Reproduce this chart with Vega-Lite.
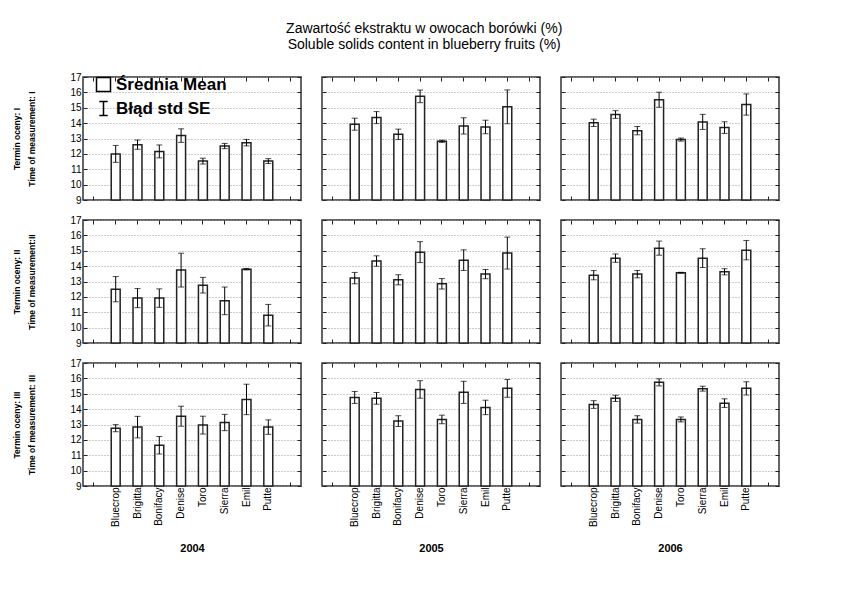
{
  "$schema": "https://vega.github.io/schema/vega-lite/v6.json",
  "background": "white",
  "padding": {"left": 12, "top": 22, "right": 5, "bottom": 5},
  "title": {
    "text": ["Zawartość ekstraktu w owocach borówki (%)", "Soluble solids content in blueberry fruits (%)"],
    "fontSize": 14, "fontWeight": "normal", "font": "Liberation Sans", "color": "black",
    "anchor": "middle", "offset": 19, "lineHeight": 16, "dx": 28
  },
  "data": {"values": [
    {"term": "I", "year": "2004", "variety": "Bluecrop", "mean": 12.0, "se": 0.55},
    {"term": "I", "year": "2004", "variety": "Brigitta", "mean": 12.6, "se": 0.3},
    {"term": "I", "year": "2004", "variety": "Bonifacy", "mean": 12.16, "se": 0.42},
    {"term": "I", "year": "2004", "variety": "Denise", "mean": 13.19, "se": 0.44},
    {"term": "I", "year": "2004", "variety": "Toro", "mean": 11.53, "se": 0.19},
    {"term": "I", "year": "2004", "variety": "Sierra", "mean": 12.51, "se": 0.17},
    {"term": "I", "year": "2004", "variety": "Emil", "mean": 12.73, "se": 0.21},
    {"term": "I", "year": "2004", "variety": "Putte", "mean": 11.53, "se": 0.16},
    {"term": "I", "year": "2005", "variety": "Bluecrop", "mean": 13.93, "se": 0.39},
    {"term": "I", "year": "2005", "variety": "Brigitta", "mean": 14.36, "se": 0.39},
    {"term": "I", "year": "2005", "variety": "Bonifacy", "mean": 13.27, "se": 0.34},
    {"term": "I", "year": "2005", "variety": "Denise", "mean": 15.74, "se": 0.41},
    {"term": "I", "year": "2005", "variety": "Toro", "mean": 12.82, "se": 0.07},
    {"term": "I", "year": "2005", "variety": "Sierra", "mean": 13.82, "se": 0.53},
    {"term": "I", "year": "2005", "variety": "Emil", "mean": 13.75, "se": 0.44},
    {"term": "I", "year": "2005", "variety": "Putte", "mean": 15.06, "se": 1.1},
    {"term": "I", "year": "2006", "variety": "Bluecrop", "mean": 14.02, "se": 0.24},
    {"term": "I", "year": "2006", "variety": "Brigitta", "mean": 14.56, "se": 0.25},
    {"term": "I", "year": "2006", "variety": "Bonifacy", "mean": 13.51, "se": 0.27},
    {"term": "I", "year": "2006", "variety": "Denise", "mean": 15.52, "se": 0.49},
    {"term": "I", "year": "2006", "variety": "Toro", "mean": 12.93, "se": 0.1},
    {"term": "I", "year": "2006", "variety": "Sierra", "mean": 14.08, "se": 0.49},
    {"term": "I", "year": "2006", "variety": "Emil", "mean": 13.71, "se": 0.38},
    {"term": "I", "year": "2006", "variety": "Putte", "mean": 15.21, "se": 0.69},
    {"term": "II", "year": "2004", "variety": "Bluecrop", "mean": 12.5, "se": 0.82},
    {"term": "II", "year": "2004", "variety": "Brigitta", "mean": 11.92, "se": 0.62},
    {"term": "II", "year": "2004", "variety": "Bonifacy", "mean": 11.92, "se": 0.6},
    {"term": "II", "year": "2004", "variety": "Denise", "mean": 13.74, "se": 1.1},
    {"term": "II", "year": "2004", "variety": "Toro", "mean": 12.76, "se": 0.51},
    {"term": "II", "year": "2004", "variety": "Sierra", "mean": 11.74, "se": 0.9},
    {"term": "II", "year": "2004", "variety": "Emil", "mean": 13.8, "se": 0.05},
    {"term": "II", "year": "2004", "variety": "Putte", "mean": 10.81, "se": 0.7},
    {"term": "II", "year": "2005", "variety": "Bluecrop", "mean": 13.22, "se": 0.37},
    {"term": "II", "year": "2005", "variety": "Brigitta", "mean": 14.33, "se": 0.34},
    {"term": "II", "year": "2005", "variety": "Bonifacy", "mean": 13.11, "se": 0.33},
    {"term": "II", "year": "2005", "variety": "Denise", "mean": 14.91, "se": 0.68},
    {"term": "II", "year": "2005", "variety": "Toro", "mean": 12.85, "se": 0.34},
    {"term": "II", "year": "2005", "variety": "Sierra", "mean": 14.39, "se": 0.67},
    {"term": "II", "year": "2005", "variety": "Emil", "mean": 13.48, "se": 0.3},
    {"term": "II", "year": "2005", "variety": "Putte", "mean": 14.85, "se": 1.04},
    {"term": "II", "year": "2006", "variety": "Bluecrop", "mean": 13.41, "se": 0.3},
    {"term": "II", "year": "2006", "variety": "Brigitta", "mean": 14.52, "se": 0.27},
    {"term": "II", "year": "2006", "variety": "Bonifacy", "mean": 13.48, "se": 0.24},
    {"term": "II", "year": "2006", "variety": "Denise", "mean": 15.17, "se": 0.46},
    {"term": "II", "year": "2006", "variety": "Toro", "mean": 13.57, "se": 0.03},
    {"term": "II", "year": "2006", "variety": "Sierra", "mean": 14.52, "se": 0.61},
    {"term": "II", "year": "2006", "variety": "Emil", "mean": 13.63, "se": 0.2},
    {"term": "II", "year": "2006", "variety": "Putte", "mean": 15.04, "se": 0.63},
    {"term": "III", "year": "2004", "variety": "Bluecrop", "mean": 12.76, "se": 0.23},
    {"term": "III", "year": "2004", "variety": "Brigitta", "mean": 12.83, "se": 0.7},
    {"term": "III", "year": "2004", "variety": "Bonifacy", "mean": 11.65, "se": 0.57},
    {"term": "III", "year": "2004", "variety": "Denise", "mean": 13.54, "se": 0.65},
    {"term": "III", "year": "2004", "variety": "Toro", "mean": 12.96, "se": 0.58},
    {"term": "III", "year": "2004", "variety": "Sierra", "mean": 13.13, "se": 0.53},
    {"term": "III", "year": "2004", "variety": "Emil", "mean": 14.63, "se": 0.99},
    {"term": "III", "year": "2004", "variety": "Putte", "mean": 12.83, "se": 0.47},
    {"term": "III", "year": "2005", "variety": "Bluecrop", "mean": 14.76, "se": 0.39},
    {"term": "III", "year": "2005", "variety": "Brigitta", "mean": 14.7, "se": 0.38},
    {"term": "III", "year": "2005", "variety": "Bonifacy", "mean": 13.22, "se": 0.35},
    {"term": "III", "year": "2005", "variety": "Denise", "mean": 15.28, "se": 0.57},
    {"term": "III", "year": "2005", "variety": "Toro", "mean": 13.33, "se": 0.28},
    {"term": "III", "year": "2005", "variety": "Sierra", "mean": 15.09, "se": 0.72},
    {"term": "III", "year": "2005", "variety": "Emil", "mean": 14.11, "se": 0.47},
    {"term": "III", "year": "2005", "variety": "Putte", "mean": 15.35, "se": 0.58},
    {"term": "III", "year": "2006", "variety": "Bluecrop", "mean": 14.3, "se": 0.25},
    {"term": "III", "year": "2006", "variety": "Brigitta", "mean": 14.7, "se": 0.2},
    {"term": "III", "year": "2006", "variety": "Bonifacy", "mean": 13.33, "se": 0.24},
    {"term": "III", "year": "2006", "variety": "Denise", "mean": 15.74, "se": 0.23},
    {"term": "III", "year": "2006", "variety": "Toro", "mean": 13.33, "se": 0.16},
    {"term": "III", "year": "2006", "variety": "Sierra", "mean": 15.33, "se": 0.16},
    {"term": "III", "year": "2006", "variety": "Emil", "mean": 14.39, "se": 0.28},
    {"term": "III", "year": "2006", "variety": "Putte", "mean": 15.35, "se": 0.43}
  ]},
  "columns": 3,
  "spacing": {"row": 20, "column": 21},
  "bounds": "flush",
  "resolve": {"scale": {"shape": "independent"}, "legend": {"shape": "independent"}},
  "concat": [
    {
      "width": 218, "height": 123,
      "transform": [{"filter": "datum.term == 'I' && datum.year == '2004'"}],
      "resolve": {"axis": {"x": "independent", "y": "independent"}},
      "layer": [
        {"mark": {"type": "bar", "fill": "white", "stroke": "#222", "strokeWidth": 1.5},
         "encoding": {
           "x": {"field": "variety", "type": "nominal", "scale": {"domain": [" ", "Bluecrop", "Brigitta", "Bonifacy", "Denise", "Toro", "Sierra", "Emil", "Putte", "  "], "paddingInner": 0.59, "paddingOuter": 0.295}, "axis": {"orient": "bottom", "labels": false, "title": null}},
           "y": {"field": "mean", "type": "quantitative", "scale": {"domain": [9, 17], "nice": false, "zero": false}, "axis": {"orient": "left", "values": [9, 10, 11, 12, 13, 14, 15, 16, 17], "grid": true, "labelPadding": 6, "title": ["Termin oceny: I", "Time of measurement: I"], "titlePadding": 33}},
           "y2": {"datum": 9}
         }},
        {"mark": {"type": "errorbar", "ticks": {"size": 6, "color": "black"}, "rule": {"color": "black", "strokeWidth": 1}},
         "encoding": {
           "x": {"field": "variety", "type": "nominal", "axis": null},
           "y": {"field": "mean", "type": "quantitative", "axis": null},
           "yError": {"field": "se"}
         }},
        {"mark": {"type": "tick", "opacity": 0},
         "encoding": {
           "x": {"field": "variety", "type": "nominal", "axis": {"orient": "top", "labels": false, "title": null}},
           "y": {"field": "mean", "type": "quantitative", "axis": {"orient": "right", "labels": false, "title": null, "grid": false, "values": [9, 10, 11, 12, 13, 14, 15, 16, 17]}}
         }},
        {"data": {"values": [{"stat": "Średnia Mean"}, {"stat": "Błąd std  SE"}]},
         "mark": {"type": "point", "opacity": 0, "filled": false},
         "encoding": {
           "shape": {"field": "stat", "type": "nominal",
             "scale": {"domain": ["Średnia Mean", "Błąd std  SE"], "range": ["square", "M-0.6,-1H0.6M0,-1V1M-0.6,1H0.6"]},
             "legend": {"title": null, "orient": "none", "legendX": 12, "legendY": -1, "padding": 0, "symbolSize": 196, "symbolStrokeColor": "black", "symbolStrokeWidth": 1.5, "symbolFillColor": "transparent", "symbolOpacity": 1, "labelFont": "Liberation Sans", "labelFontSize": 17, "labelFontWeight": "bold", "labelColor": "black", "labelOffset": 4, "rowPadding": 3}}
         }}
      ]
    },
    {
      "width": 218, "height": 123,
      "transform": [{"filter": "datum.term == 'I' && datum.year == '2005'"}],
      "resolve": {"axis": {"x": "independent", "y": "independent"}},
      "layer": [
        {"mark": {"type": "bar", "fill": "white", "stroke": "#222", "strokeWidth": 1.5},
         "encoding": {
           "x": {"field": "variety", "type": "nominal", "scale": {"domain": [" ", "Bluecrop", "Brigitta", "Bonifacy", "Denise", "Toro", "Sierra", "Emil", "Putte", "  "], "paddingInner": 0.59, "paddingOuter": 0.295}, "axis": {"orient": "bottom", "labels": false, "title": null}},
           "y": {"field": "mean", "type": "quantitative", "scale": {"domain": [9, 17], "nice": false, "zero": false}, "axis": {"orient": "left", "values": [9, 10, 11, 12, 13, 14, 15, 16, 17], "grid": true, "labels": false, "title": null}},
           "y2": {"datum": 9}
         }},
        {"mark": {"type": "errorbar", "ticks": {"size": 6, "color": "black"}, "rule": {"color": "black", "strokeWidth": 1}},
         "encoding": {
           "x": {"field": "variety", "type": "nominal", "axis": null},
           "y": {"field": "mean", "type": "quantitative", "axis": null},
           "yError": {"field": "se"}
         }},
        {"mark": {"type": "tick", "opacity": 0},
         "encoding": {
           "x": {"field": "variety", "type": "nominal", "axis": {"orient": "top", "labels": false, "title": null}},
           "y": {"field": "mean", "type": "quantitative", "axis": {"orient": "right", "labels": false, "title": null, "grid": false, "values": [9, 10, 11, 12, 13, 14, 15, 16, 17]}}
         }}
      ]
    },
    {
      "width": 218, "height": 123,
      "transform": [{"filter": "datum.term == 'I' && datum.year == '2006'"}],
      "resolve": {"axis": {"x": "independent", "y": "independent"}},
      "layer": [
        {"mark": {"type": "bar", "fill": "white", "stroke": "#222", "strokeWidth": 1.5},
         "encoding": {
           "x": {"field": "variety", "type": "nominal", "scale": {"domain": [" ", "Bluecrop", "Brigitta", "Bonifacy", "Denise", "Toro", "Sierra", "Emil", "Putte", "  "], "paddingInner": 0.59, "paddingOuter": 0.295}, "axis": {"orient": "bottom", "labels": false, "title": null}},
           "y": {"field": "mean", "type": "quantitative", "scale": {"domain": [9, 17], "nice": false, "zero": false}, "axis": {"orient": "left", "values": [9, 10, 11, 12, 13, 14, 15, 16, 17], "grid": true, "labels": false, "title": null}},
           "y2": {"datum": 9}
         }},
        {"mark": {"type": "errorbar", "ticks": {"size": 6, "color": "black"}, "rule": {"color": "black", "strokeWidth": 1}},
         "encoding": {
           "x": {"field": "variety", "type": "nominal", "axis": null},
           "y": {"field": "mean", "type": "quantitative", "axis": null},
           "yError": {"field": "se"}
         }},
        {"mark": {"type": "tick", "opacity": 0},
         "encoding": {
           "x": {"field": "variety", "type": "nominal", "axis": {"orient": "top", "labels": false, "title": null}},
           "y": {"field": "mean", "type": "quantitative", "axis": {"orient": "right", "labels": false, "title": null, "grid": false, "values": [9, 10, 11, 12, 13, 14, 15, 16, 17]}}
         }}
      ]
    },
    {
      "width": 218, "height": 123,
      "transform": [{"filter": "datum.term == 'II' && datum.year == '2004'"}],
      "resolve": {"axis": {"x": "independent", "y": "independent"}},
      "layer": [
        {"mark": {"type": "bar", "fill": "white", "stroke": "#222", "strokeWidth": 1.5},
         "encoding": {
           "x": {"field": "variety", "type": "nominal", "scale": {"domain": [" ", "Bluecrop", "Brigitta", "Bonifacy", "Denise", "Toro", "Sierra", "Emil", "Putte", "  "], "paddingInner": 0.59, "paddingOuter": 0.295}, "axis": {"orient": "bottom", "labels": false, "title": null}},
           "y": {"field": "mean", "type": "quantitative", "scale": {"domain": [9, 17], "nice": false, "zero": false}, "axis": {"orient": "left", "values": [9, 10, 11, 12, 13, 14, 15, 16, 17], "grid": true, "labelPadding": 6, "title": ["Termin oceny: II", "Time of measurement:II"], "titlePadding": 33}},
           "y2": {"datum": 9}
         }},
        {"mark": {"type": "errorbar", "ticks": {"size": 6, "color": "black"}, "rule": {"color": "black", "strokeWidth": 1}},
         "encoding": {
           "x": {"field": "variety", "type": "nominal", "axis": null},
           "y": {"field": "mean", "type": "quantitative", "axis": null},
           "yError": {"field": "se"}
         }},
        {"mark": {"type": "tick", "opacity": 0},
         "encoding": {
           "x": {"field": "variety", "type": "nominal", "axis": {"orient": "top", "labels": false, "title": null}},
           "y": {"field": "mean", "type": "quantitative", "axis": {"orient": "right", "labels": false, "title": null, "grid": false, "values": [9, 10, 11, 12, 13, 14, 15, 16, 17]}}
         }}
      ]
    },
    {
      "width": 218, "height": 123,
      "transform": [{"filter": "datum.term == 'II' && datum.year == '2005'"}],
      "resolve": {"axis": {"x": "independent", "y": "independent"}},
      "layer": [
        {"mark": {"type": "bar", "fill": "white", "stroke": "#222", "strokeWidth": 1.5},
         "encoding": {
           "x": {"field": "variety", "type": "nominal", "scale": {"domain": [" ", "Bluecrop", "Brigitta", "Bonifacy", "Denise", "Toro", "Sierra", "Emil", "Putte", "  "], "paddingInner": 0.59, "paddingOuter": 0.295}, "axis": {"orient": "bottom", "labels": false, "title": null}},
           "y": {"field": "mean", "type": "quantitative", "scale": {"domain": [9, 17], "nice": false, "zero": false}, "axis": {"orient": "left", "values": [9, 10, 11, 12, 13, 14, 15, 16, 17], "grid": true, "labels": false, "title": null}},
           "y2": {"datum": 9}
         }},
        {"mark": {"type": "errorbar", "ticks": {"size": 6, "color": "black"}, "rule": {"color": "black", "strokeWidth": 1}},
         "encoding": {
           "x": {"field": "variety", "type": "nominal", "axis": null},
           "y": {"field": "mean", "type": "quantitative", "axis": null},
           "yError": {"field": "se"}
         }},
        {"mark": {"type": "tick", "opacity": 0},
         "encoding": {
           "x": {"field": "variety", "type": "nominal", "axis": {"orient": "top", "labels": false, "title": null}},
           "y": {"field": "mean", "type": "quantitative", "axis": {"orient": "right", "labels": false, "title": null, "grid": false, "values": [9, 10, 11, 12, 13, 14, 15, 16, 17]}}
         }}
      ]
    },
    {
      "width": 218, "height": 123,
      "transform": [{"filter": "datum.term == 'II' && datum.year == '2006'"}],
      "resolve": {"axis": {"x": "independent", "y": "independent"}},
      "layer": [
        {"mark": {"type": "bar", "fill": "white", "stroke": "#222", "strokeWidth": 1.5},
         "encoding": {
           "x": {"field": "variety", "type": "nominal", "scale": {"domain": [" ", "Bluecrop", "Brigitta", "Bonifacy", "Denise", "Toro", "Sierra", "Emil", "Putte", "  "], "paddingInner": 0.59, "paddingOuter": 0.295}, "axis": {"orient": "bottom", "labels": false, "title": null}},
           "y": {"field": "mean", "type": "quantitative", "scale": {"domain": [9, 17], "nice": false, "zero": false}, "axis": {"orient": "left", "values": [9, 10, 11, 12, 13, 14, 15, 16, 17], "grid": true, "labels": false, "title": null}},
           "y2": {"datum": 9}
         }},
        {"mark": {"type": "errorbar", "ticks": {"size": 6, "color": "black"}, "rule": {"color": "black", "strokeWidth": 1}},
         "encoding": {
           "x": {"field": "variety", "type": "nominal", "axis": null},
           "y": {"field": "mean", "type": "quantitative", "axis": null},
           "yError": {"field": "se"}
         }},
        {"mark": {"type": "tick", "opacity": 0},
         "encoding": {
           "x": {"field": "variety", "type": "nominal", "axis": {"orient": "top", "labels": false, "title": null}},
           "y": {"field": "mean", "type": "quantitative", "axis": {"orient": "right", "labels": false, "title": null, "grid": false, "values": [9, 10, 11, 12, 13, 14, 15, 16, 17]}}
         }}
      ]
    },
    {
      "width": 218, "height": 123,
      "transform": [{"filter": "datum.term == 'III' && datum.year == '2004'"}],
      "resolve": {"axis": {"x": "independent", "y": "independent"}},
      "layer": [
        {"mark": {"type": "bar", "fill": "white", "stroke": "#222", "strokeWidth": 1.5},
         "encoding": {
           "x": {"field": "variety", "type": "nominal", "scale": {"domain": [" ", "Bluecrop", "Brigitta", "Bonifacy", "Denise", "Toro", "Sierra", "Emil", "Putte", "  "], "paddingInner": 0.59, "paddingOuter": 0.295}, "axis": {"orient": "bottom", "labelAngle": -90, "labelPadding": 5, "title": "2004", "titleFontWeight": "bold", "titlePadding": 16}},
           "y": {"field": "mean", "type": "quantitative", "scale": {"domain": [9, 17], "nice": false, "zero": false}, "axis": {"orient": "left", "values": [9, 10, 11, 12, 13, 14, 15, 16, 17], "grid": true, "labelPadding": 6, "title": ["Termin oceny: III", "Time of measurement: III"], "titlePadding": 33}},
           "y2": {"datum": 9}
         }},
        {"mark": {"type": "errorbar", "ticks": {"size": 6, "color": "black"}, "rule": {"color": "black", "strokeWidth": 1}},
         "encoding": {
           "x": {"field": "variety", "type": "nominal", "axis": null},
           "y": {"field": "mean", "type": "quantitative", "axis": null},
           "yError": {"field": "se"}
         }},
        {"mark": {"type": "tick", "opacity": 0},
         "encoding": {
           "x": {"field": "variety", "type": "nominal", "axis": {"orient": "top", "labels": false, "title": null}},
           "y": {"field": "mean", "type": "quantitative", "axis": {"orient": "right", "labels": false, "title": null, "grid": false, "values": [9, 10, 11, 12, 13, 14, 15, 16, 17]}}
         }}
      ]
    },
    {
      "width": 218, "height": 123,
      "transform": [{"filter": "datum.term == 'III' && datum.year == '2005'"}],
      "resolve": {"axis": {"x": "independent", "y": "independent"}},
      "layer": [
        {"mark": {"type": "bar", "fill": "white", "stroke": "#222", "strokeWidth": 1.5},
         "encoding": {
           "x": {"field": "variety", "type": "nominal", "scale": {"domain": [" ", "Bluecrop", "Brigitta", "Bonifacy", "Denise", "Toro", "Sierra", "Emil", "Putte", "  "], "paddingInner": 0.59, "paddingOuter": 0.295}, "axis": {"orient": "bottom", "labelAngle": -90, "labelPadding": 5, "title": "2005", "titleFontWeight": "bold", "titlePadding": 16}},
           "y": {"field": "mean", "type": "quantitative", "scale": {"domain": [9, 17], "nice": false, "zero": false}, "axis": {"orient": "left", "values": [9, 10, 11, 12, 13, 14, 15, 16, 17], "grid": true, "labels": false, "title": null}},
           "y2": {"datum": 9}
         }},
        {"mark": {"type": "errorbar", "ticks": {"size": 6, "color": "black"}, "rule": {"color": "black", "strokeWidth": 1}},
         "encoding": {
           "x": {"field": "variety", "type": "nominal", "axis": null},
           "y": {"field": "mean", "type": "quantitative", "axis": null},
           "yError": {"field": "se"}
         }},
        {"mark": {"type": "tick", "opacity": 0},
         "encoding": {
           "x": {"field": "variety", "type": "nominal", "axis": {"orient": "top", "labels": false, "title": null}},
           "y": {"field": "mean", "type": "quantitative", "axis": {"orient": "right", "labels": false, "title": null, "grid": false, "values": [9, 10, 11, 12, 13, 14, 15, 16, 17]}}
         }}
      ]
    },
    {
      "width": 218, "height": 123,
      "transform": [{"filter": "datum.term == 'III' && datum.year == '2006'"}],
      "resolve": {"axis": {"x": "independent", "y": "independent"}},
      "layer": [
        {"mark": {"type": "bar", "fill": "white", "stroke": "#222", "strokeWidth": 1.5},
         "encoding": {
           "x": {"field": "variety", "type": "nominal", "scale": {"domain": [" ", "Bluecrop", "Brigitta", "Bonifacy", "Denise", "Toro", "Sierra", "Emil", "Putte", "  "], "paddingInner": 0.59, "paddingOuter": 0.295}, "axis": {"orient": "bottom", "labelAngle": -90, "labelPadding": 5, "title": "2006", "titleFontWeight": "bold", "titlePadding": 16}},
           "y": {"field": "mean", "type": "quantitative", "scale": {"domain": [9, 17], "nice": false, "zero": false}, "axis": {"orient": "left", "values": [9, 10, 11, 12, 13, 14, 15, 16, 17], "grid": true, "labels": false, "title": null}},
           "y2": {"datum": 9}
         }},
        {"mark": {"type": "errorbar", "ticks": {"size": 6, "color": "black"}, "rule": {"color": "black", "strokeWidth": 1}},
         "encoding": {
           "x": {"field": "variety", "type": "nominal", "axis": null},
           "y": {"field": "mean", "type": "quantitative", "axis": null},
           "yError": {"field": "se"}
         }},
        {"mark": {"type": "tick", "opacity": 0},
         "encoding": {
           "x": {"field": "variety", "type": "nominal", "axis": {"orient": "top", "labels": false, "title": null}},
           "y": {"field": "mean", "type": "quantitative", "axis": {"orient": "right", "labels": false, "title": null, "grid": false, "values": [9, 10, 11, 12, 13, 14, 15, 16, 17]}}
         }}
      ]
    }
  ],
  "config": {
    "font": "Liberation Sans",
    "view": {"stroke": "#333", "strokeWidth": 1.5},
    "axis": {"domain": false, "tickSize": -4, "tickColor": "#222", "labelColor": "black", "labelFontSize": 10, "labelFont": "Liberation Sans", "titleColor": "black", "titleFontSize": 11, "grid": false, "minExtent": 0},
    "axisY": {"gridColor": "#999", "gridDash": [1, 2], "gridWidth": 1, "titleFont": "Liberation Sans", "titleFontWeight": "bold", "titleFontSize": 8.5, "titleLineHeight": 15},
    "axisX": {"titleFont": "Liberation Sans"}
  }
}
